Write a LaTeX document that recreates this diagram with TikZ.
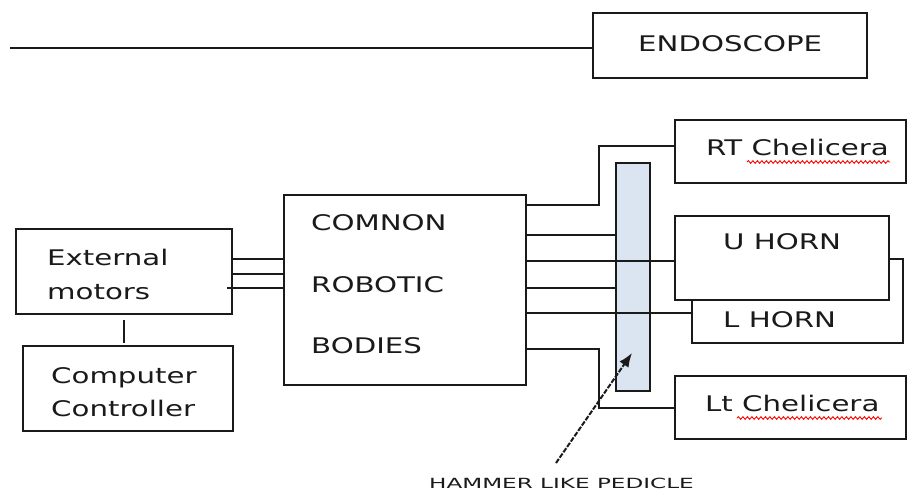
\documentclass[tikz,border=0pt]{standalone}
\usepackage{fontspec}
\setmainfont[FakeStretch=1.36]{DejaVu Sans}
\newfontfamily\widefont[FakeStretch=1.65]{DejaVu Sans}
\usetikzlibrary{arrows.meta,decorations.pathmorphing}
\definecolor{barfill}{HTML}{DBE5F1}
\definecolor{ink}{HTML}{1A1A1A}
\tikzset{
  box/.style={draw=ink, line width=1.8pt, fill=white, inner sep=0pt, outer sep=0pt},
  lbl/.style={inner sep=0pt, font=\fontsize{21.5}{24}\selectfont, text=ink, anchor=base west},
  wire/.style={draw=ink, line width=1.8pt},
  squiggle/.style={draw=red, line width=0.9pt, decorate,
    decoration={snake, amplitude=1.3pt, segment length=4.5pt}},
  pointer/.style={draw=ink, line width=2pt, dash pattern=on 5pt off 1.5pt,
    -{Latex[length=14pt,width=11pt]}}
}
\begin{document}
\begin{tikzpicture}[x=1pt,y=-1pt]
\useasboundingbox (0,0) rectangle (909,493);

% endoscope and its lead
\node[box, minimum width=274pt, minimum height=65pt] (endo) at (730,45.5) {};
\node[lbl] (endotxt) at (638,51) {ENDOSCOPE};
\coordinate (lead) at (10,48);
\draw[wire] (lead) -- (lead -| endo.west);

% motors and controller
\node[box, minimum width=216pt, minimum height=85pt] (motors) at (124,271.5) {};
\node[lbl] (ext1) at (47,265) {External};
\node[lbl] (ext2) at (47,299) {motors};
\node[box, minimum width=210pt, minimum height=85pt] (computer) at (128,388.5) {};
\node[lbl] (cmp1) at (51,383) {Computer};
\node[lbl] (cmp2) at (51,416) {Controller};
\coordinate (link1) at (124,320);
\coordinate (link2) at (124,343);
\draw[wire] (link1) -- (link2);

% common robotic bodies
\node[box, minimum width=242pt, minimum height=190pt] (common) at (405,290) {};
\node[lbl] (c1) at (311,230) {COMNON};
\node[lbl] (c2) at (311,292) {ROBOTIC};
\node[lbl] (c3) at (311,353) {BODIES};

\draw[wire] (motors.east |- 0,259) -- (common.west |- 0,259);
\draw[wire] (motors.east |- 0,274) -- (common.west |- 0,274);
\draw[wire] (227,288) -- (common.west |- 0,288);

% end effectors
\node[box, minimum width=231pt, minimum height=63pt] (rt) at (790.5,151.5) {};
\node[lbl] (rttxt) at (706,155) {RT Chelicera};
\draw[squiggle] (747,162) -- (890,162);

\node[box, minimum width=211pt, minimum height=84pt] (lh) at (797.5,301) {};
\node[box, minimum width=214pt, minimum height=84pt] (uh) at (782,258) {};
\node[lbl] (uhtxt) at (723,249) {U HORN};
\node[lbl] (lhtxt) at (723,327) {L HORN};

\node[box, minimum width=231pt, minimum height=63pt] (lt) at (790.5,407.5) {};
\node[lbl] (lttxt) at (705,411) {Lt Chelicera};
\draw[squiggle] (737,418) -- (882,418);

% pedicle bar
\node[box, fill=barfill, minimum width=34pt, minimum height=228pt] (bar) at (633,277) {};

% wiring from the common body
\draw[wire] (common.east |- 0,205) -- (599,205) -- (599,146) -- (rt.west |- 0,146);
\draw[wire] (common.east |- 0,235) -- (bar.west |- 0,235);
\draw[wire] (common.east |- 0,261) -- (uh.west |- 0,261);
\draw[wire] (common.east |- 0,288) -- (bar.west |- 0,288);
\draw[wire] (common.east |- 0,313) -- (lh.west |- 0,313);
\draw[wire] (common.east |- 0,349) -- (599,349) -- (599,408) -- (lt.west |- 0,408);

% pedicle label and pointer
\node[inner sep=0pt, anchor=base west, font=\widefont\fontsize{14}{16}\selectfont, text=ink]
  (hammer) at (429,488) {HAMMER LIKE PEDICLE};
\coordinate (ptail) at (556,463);
\coordinate (phead) at (632,353);
\draw[pointer] (ptail) -- (phead);
\end{tikzpicture}
\end{document}
